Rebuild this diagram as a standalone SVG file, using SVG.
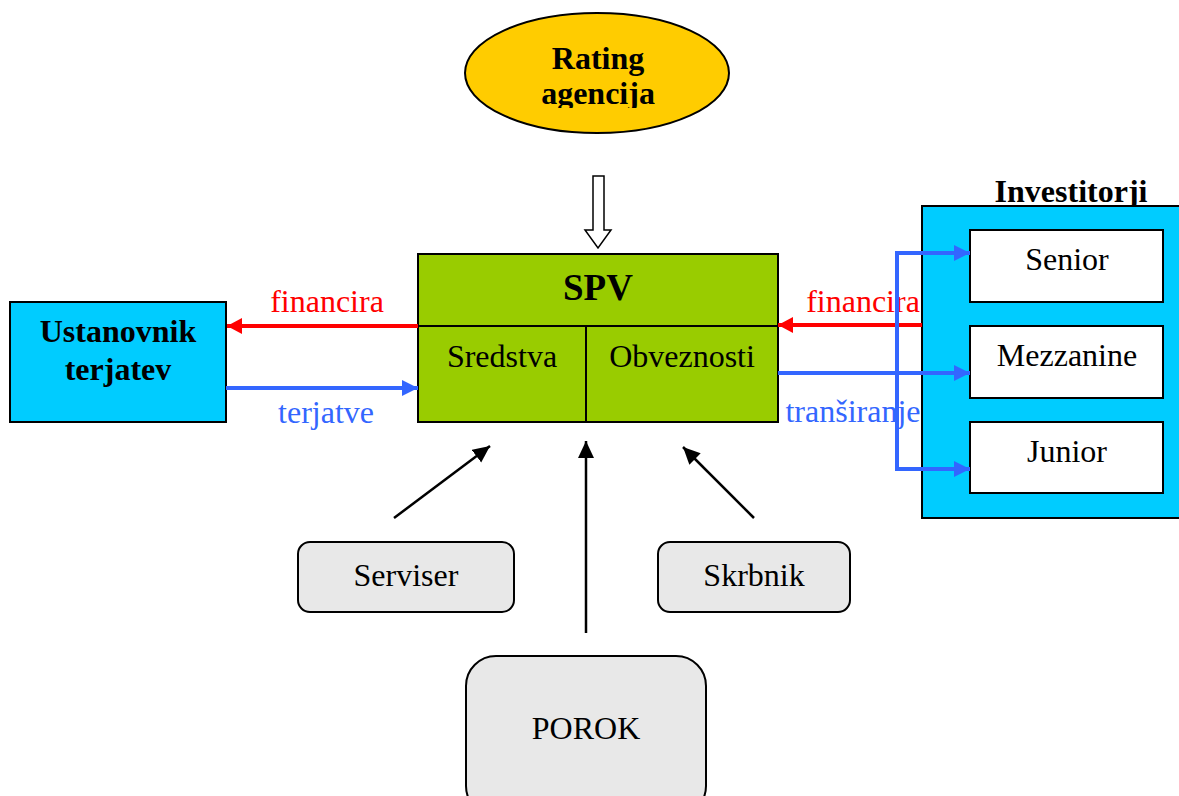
<svg xmlns="http://www.w3.org/2000/svg" width="1179" height="796" viewBox="0 0 1179 796">
<defs>
<style>
.t{font-family:"Liberation Serif","Times New Roman",serif;font-size:32px;text-anchor:middle;fill:#000}
.b{font-weight:bold}
.box{stroke:#000;stroke-width:2}
.red{stroke:#FF0000;stroke-width:4;fill:none}
.blue{stroke:#3366FF;stroke-width:4;fill:none}
.blk{stroke:#000;stroke-width:2.5;fill:none}
</style>
<marker id="ar" markerUnits="userSpaceOnUse" markerWidth="16" markerHeight="18" refX="15" refY="8" orient="auto"><path d="M0,0 L15,8 L0,16 Z" fill="#FF0000"/></marker>
<marker id="ab" markerUnits="userSpaceOnUse" markerWidth="17" markerHeight="17" refX="16" refY="8" orient="auto"><path d="M0,0 L16,8 L0,16 Z" fill="#3366FF"/></marker>
<marker id="ak" markerUnits="userSpaceOnUse" markerWidth="18" markerHeight="18" refX="17" refY="8" orient="auto"><path d="M0,0 L17,8 L0,16 Z" fill="#000"/></marker>
<clipPath id="clipR"><rect x="440" y="0" width="300" height="108"/></clipPath>
</defs>
<rect width="1179" height="796" fill="#fff"/>

<g id="rating">
<ellipse cx="597" cy="73" rx="132" ry="60" fill="#FFCC00" class="box"/>
<g clip-path="url(#clipR)">
<text class="t b" x="598" y="69">Rating</text>
<text class="t b" x="598" y="104">agencija</text>
</g>
</g>

<g id="spv">
<rect x="418" y="254" width="360" height="168" fill="#99CC00" class="box"/>
<line x1="418" y1="326" x2="778" y2="326" class="box"/>
<line x1="586" y1="326" x2="586" y2="422" class="box"/>
<text class="t b" x="598" y="300" style="font-size:37px">SPV</text>
<text class="t" x="502" y="367">Sredstva</text>
<text class="t" x="682" y="367">Obveznosti</text>
</g>

<g id="ustanovnik">
<rect x="10" y="302" width="216" height="120" fill="#00CCFF" class="box"/>
<text class="t b" x="118" y="342">Ustanovnik</text>
<text class="t b" x="118" y="380">terjatev</text>
</g>

<g id="investitorji">
<text class="t b" x="1071" y="202">Investitorji</text>
<rect x="922" y="206" width="262" height="312" fill="#00CCFF" class="box"/>
<g id="senior"><rect x="970" y="230" width="193" height="72" fill="#fff" class="box"/><text class="t" x="1067" y="270">Senior</text></g>
<g id="mezzanine"><rect x="970" y="326" width="193" height="72" fill="#fff" class="box"/><text class="t" x="1067" y="366">Mezzanine</text></g>
<g id="junior"><rect x="970" y="422" width="193" height="71" fill="#fff" class="box"/><text class="t" x="1067" y="462">Junior</text></g>
</g>

<g id="serviser">
<rect x="298" y="542" width="216" height="70" rx="12" fill="#E8E8E8" class="box"/>
<text class="t" x="406" y="586">Serviser</text>
</g>
<g id="skrbnik">
<rect x="658" y="542" width="192" height="70" rx="12" fill="#E8E8E8" class="box"/>
<text class="t" x="754" y="586">Skrbnik</text>
</g>
<g id="porok">
<rect x="466" y="656" width="240" height="160" rx="30" fill="#E8E8E8" class="box"/>
<text class="t" x="586" y="739">POROK</text>
</g>

<g id="connectors">
<path d="M593,176 H604 V230 H611 L598,248 L585,230 H593 Z" fill="#fff" stroke="#000" stroke-width="1.5"/>
<line x1="418" y1="326" x2="227" y2="326" class="red" marker-end="url(#ar)"/>
<text class="t" x="327" y="312" style="fill:#FF0000">financira</text>
<line x1="226" y1="388" x2="418" y2="388" class="blue" marker-end="url(#ab)"/>
<text class="t" x="326" y="423" style="fill:#3366FF">terjatve</text>
<text class="t" x="863" y="312" style="fill:#FF0000">financira</text>
<line x1="922" y1="325" x2="778" y2="325" class="red" marker-end="url(#ar)"/>
<text class="t" x="853" y="422" style="fill:#3366FF">tranširanje</text>
<line x1="778" y1="373" x2="970" y2="373" class="blue" marker-end="url(#ab)"/>
<path d="M897,253 V469" class="blue"/>
<line x1="895" y1="253" x2="970" y2="253" class="blue" marker-end="url(#ab)"/>
<line x1="895" y1="469" x2="970" y2="469" class="blue" marker-end="url(#ab)"/>
<line x1="394" y1="518" x2="490" y2="446" class="blk" marker-end="url(#ak)"/>
<line x1="586" y1="633" x2="586" y2="441" class="blk" marker-end="url(#ak)"/>
<line x1="754" y1="518" x2="683" y2="447" class="blk" marker-end="url(#ak)"/>
</g>
</svg>
